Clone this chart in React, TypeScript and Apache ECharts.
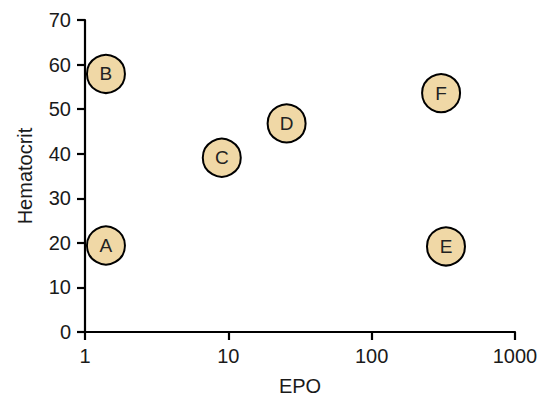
import React, { useEffect, useRef } from "react";
import * as echarts from "echarts";

const pointLabels = ["A", "B", "C", "D", "E", "F"];
const epoValues = [1.4, 1.4, 9.0, 25.5, 330, 305];
const hematocritValues = [19.4, 57.9, 39.1, 46.8, 19.2, 53.6];
const yTicks = [0, 10, 20, 30, 40, 50, 60, 70];
const xTicks = [1, 10, 100, 1000];

const FONT = "Liberation Sans, Arial, Helvetica, sans-serif";

export default function App() {
  const ref = useRef<HTMLDivElement>(null);
  useEffect(() => {
    if (!ref.current) return;
    const chart = echarts.init(ref.current, undefined, { renderer: "svg" });
    const data = pointLabels.map((n, i) => ({ name: n, value: [epoValues[i], hematocritValues[i]] }));
    chart.setOption({
      animation: false,
      backgroundColor: "#ffffff",
      grid: { left: 85, right: 26, top: 20, bottom: 66, containLabel: false, outerBoundsMode: "none" },
      xAxis: {
        type: "log",
        logBase: 10,
        min: xTicks[0],
        max: xTicks[xTicks.length - 1],
        name: "EPO",
        nameLocation: "middle",
        nameGap: 44,
        nameTextStyle: { fontFamily: FONT, fontSize: 20, color: "#1a1a1a" },
        axisLine: { show: true, onZero: false, lineStyle: { color: "#000", width: 2.2 } },
        axisTick: { show: true, length: 8, lineStyle: { color: "#000", width: 2.2 } },
        minorTick: { show: false },
        splitLine: { show: false },
        axisLabel: {
          fontFamily: FONT,
          fontSize: 20,
          color: "#1a1a1a",
          margin: 14,
          formatter: (v: number) => String(Math.round(v)),
        },
      },
      yAxis: {
        type: "value",
        min: yTicks[0],
        max: yTicks[yTicks.length - 1],
        interval: 10,
        name: "Hematocrit",
        nameLocation: "middle",
        nameGap: 50,
        nameTextStyle: { fontFamily: FONT, fontSize: 20, color: "#1a1a1a" },
        axisLine: { show: true, lineStyle: { color: "#000", width: 2.2 } },
        axisTick: { show: true, length: 8, lineStyle: { color: "#000", width: 2.2 } },
        splitLine: { show: false },
        axisLabel: { fontFamily: FONT, fontSize: 20, color: "#1a1a1a", margin: 14 },
      },
      series: [
        {
          type: "scatter",
          data,
          symbol: "circle",
          symbolSize: 38,
          itemStyle: { color: "#F0D8A6", borderColor: "#000", borderWidth: 2, opacity: 1 },
          label: {
            show: true,
            position: "inside",
            formatter: (p: any) => p.name,
            fontFamily: FONT,
            fontSize: 19,
            color: "#222",
          },
        },
      ],
    });
    return () => chart.dispose();
  }, []);
  return <div ref={ref} style={{ width: 541, height: 398, position: "absolute", left: 0, top: 0 }} />;
}
